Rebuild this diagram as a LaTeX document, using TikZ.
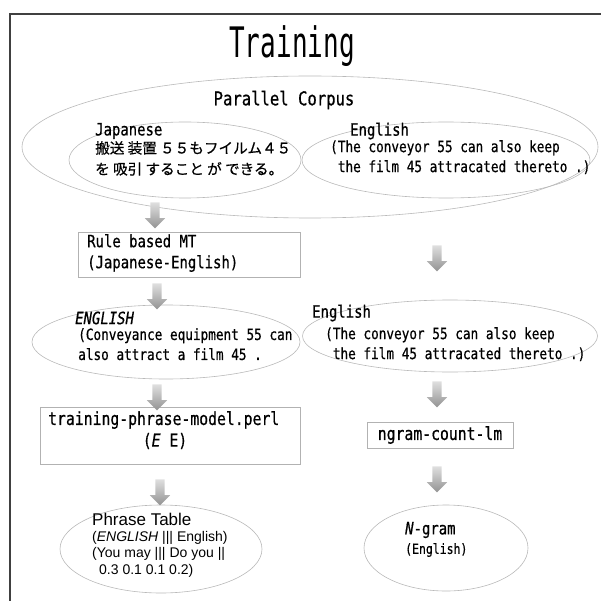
\documentclass[tikz,border=0pt]{standalone}
\usepackage{fontspec}
\setmainfont{Liberation Sans}
\newfontfamily\gothic[FakeStretch=0.82, FakeBold=0.6]{DejaVu Sans Mono}
\newfontfamily\gothictitle[FakeStretch=0.62]{DejaVu Sans Mono}
\newfontfamily\jpfont[FakeBold=0.5]{Noto Sans CJK JP}
\usetikzlibrary{positioning,shapes.geometric,shapes.arrows}
\tikzset{
  frame/.style={draw=black!75, line width=2pt},
  corpus/.style={ellipse, draw=gray!55, line width=0.6pt, inner sep=0pt},
  stepbox/.style={rectangle, draw=gray!60, line width=0.6pt, inner sep=0pt},
  head/.style={font=\gothic\fontsize{17}{20}\selectfont, inner sep=0pt, anchor=west},
  body/.style={font=\gothic\fontsize{15.5}{20}\selectfont, inner sep=0pt, anchor=north west, align=left},
  flow/.style={single arrow, shape border rotate=270, draw=none, inner sep=4.5pt,
    minimum height=26pt, minimum width=20pt, single arrow head extend=5.5pt,
    top color=gray!25, bottom color=gray!85}
}
\begin{document}
\begin{tikzpicture}[x=1pt, y=-1pt]
  \useasboundingbox (0,0) rectangle (600,601);
  \draw[frame] (10,601) -- (10,14) -- (601,14);

  \node[font=\gothictitle\fontsize{42}{44}\selectfont, inner sep=0pt] (title) at (292,46) {Training};

  % parallel corpus
  \node[corpus, minimum width=576pt, minimum height=142pt] (corpus) at (310,147) {};
  \node[font=\gothic\fontsize{19}{22}\selectfont, inner sep=0pt] (corpuslbl) at (284,100) {Parallel Corpus};

  \node[corpus, minimum width=232pt, minimum height=76pt] (jp) at (185,160) {};
  \node[head] (jphead) at (95,131) {Japanese};
  \node[body, font=\jpfont\fontsize{14.6}{21}\selectfont] (jptext) at (95,141)
    {搬送 装置 ５５もフイルム４５\\を 吸引 すること が できる。};

  \node[corpus, minimum width=288pt, minimum height=76pt] (en) at (446,160) {};
  \node[head] (enhead) at (350,131) {English};
  \node[body] (entext) at (330,140) {(The conveyor 55 can also keep\\\phantom{(}the film 45 attracated thereto .)};

  % left column
  \node[stepbox, minimum width=222pt, minimum height=45pt] (rbmt) at (189,255) {};
  \node[body, font=\gothic\fontsize{17}{21}\selectfont] (rbmttext) at (87,234) {Rule based MT\\(Japanese-English)};

  \node[corpus, minimum width=268pt, minimum height=74pt] (mt) at (166,342) {};
  \node[head, font=\gothic\itshape\fontsize{17}{20}\selectfont] (mthead) at (75,318) {ENGLISH};
  \node[body] (mttext) at (78,328) {(Conveyance equipment 55 can\\also attract a film 45 .};

  \node[stepbox, minimum width=260pt, minimum height=57pt] (train) at (170,436) {};
  \node[inner sep=0pt, font=\gothic\fontsize{18}{21}\selectfont, anchor=west] (traintext) at (48,420) {training-phrase-model.perl};
  \node[inner sep=0pt, font=\gothic\fontsize{18}{21}\selectfont] (trainpair) at (165,441) {({\itshape E} E)};

  \node[corpus, minimum width=202pt, minimum height=88pt] (phrase) at (161,549) {};
  \node[inner sep=0pt, anchor=west, font=\fontsize{17}{20}\selectfont] (phrasehead) at (92,519) {Phrase Table};
  \node[inner sep=0pt, anchor=north west, align=left, font=\fontsize{14}{16.5}\selectfont] (phrasetext) at (92,531)
    {({\itshape ENGLISH} ||| English)\\(You may ||| Do you ||\\\hspace*{7pt}0.3 0.1 0.1 0.2)};

  % right column
  \node[corpus, minimum width=295pt, minimum height=72pt] (lm) at (450,336) {};
  \node[head] (lmhead) at (312,313) {English};
  \node[body] (lmtext) at (325,327) {(The conveyor 55 can also keep\\\phantom{(}the film 45 attracated thereto .)};

  \node[stepbox, minimum width=146pt, minimum height=26pt] (count) at (440,435) {};
  \node[inner sep=0pt, font=\gothic\fontsize{18}{21}\selectfont] (counttext) at (count) {ngram-count-lm};

  \node[corpus, minimum width=164pt, minimum height=86pt] (ngram) at (446,548) {};
  \node[head] (ngramhead) at (405,530) {{\itshape N}-gram};
  \node[body, anchor=west, font=\gothic\fontsize{14}{18}\selectfont] (ngramtext) at (405,550) {(English)};

  % block arrows
  \node[flow] (a1) at (155,213) {};
  \node[flow] (a2) at (157,294) {};
  \node[flow] (a3) at (157,395) {};
  \node[flow] (a4) at (160,490) {};
  \node[flow] (b1) at (437,256) {};
  \node[flow] (b2) at (437,392) {};
  \node[flow] (b3) at (437,477) {};
\end{tikzpicture}
\end{document}
